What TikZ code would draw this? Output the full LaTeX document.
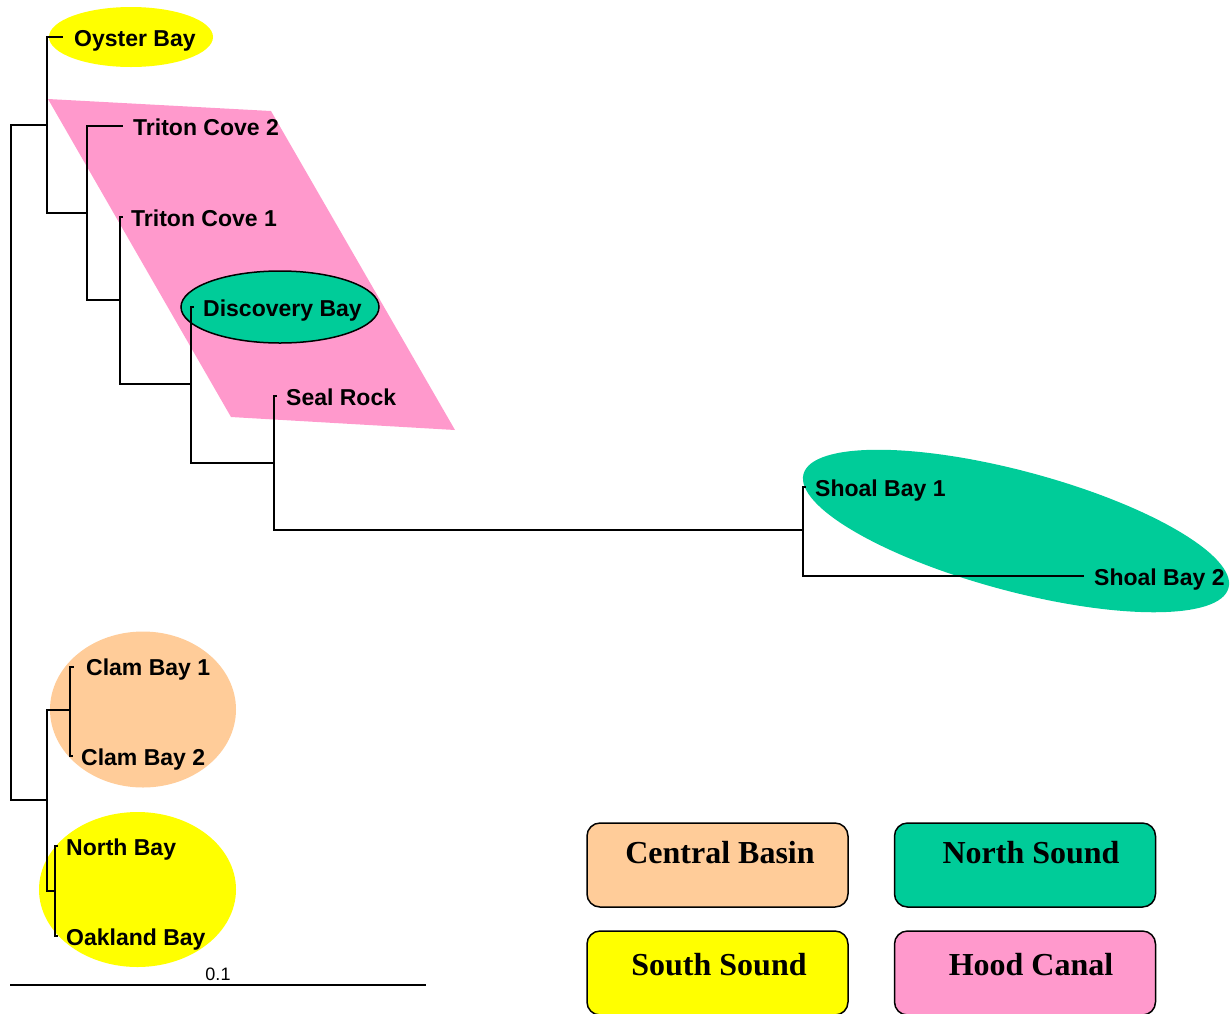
\documentclass[tikz,border=0pt]{standalone}
\usepackage{fontspec}
\setmainfont{Liberation Serif}
\newfontfamily\arialf{Liberation Sans}
\definecolor{cyel}{HTML}{FFFF00}
\definecolor{cpink}{HTML}{FF99CC}
\definecolor{cgreen}{HTML}{00CC99}
\definecolor{cpeach}{HTML}{FFCC99}
\tikzset{
  branch/.style={draw=black,line width=1.6pt,line join=miter,line cap=rect},
  leaf/.style={anchor=base west,inner sep=0pt,font=\arialf\bfseries\fontsize{23}{23}\selectfont},
  legbox/.style={draw=black,line width=1.5pt,rounded corners=13pt,minimum width=261pt,minimum height=84pt,inner sep=0pt},
  legtext/.style={anchor=base,inner sep=0pt,font=\bfseries\fontsize{32}{32}\selectfont}
}
\begin{document}
\begin{tikzpicture}[x=1pt,y=-1pt]
\useasboundingbox (0,0) rectangle (1231,1013);
% group shapes
\fill[cyel] (131,37) ellipse [x radius=82pt,y radius=30pt];
\fill[cpink] (48,99) -- (271,111) -- (455,430) -- (231,417) -- cycle;
\filldraw[fill=cgreen,draw=black,line width=1.5pt] (280,307) ellipse [x radius=99pt,y radius=36pt];
\fill[cgreen,rotate around={-15:(1016,531)}] (1016,531) ellipse [x radius=220pt,y radius=60pt];
\fill[cpeach] (143,709.5) ellipse [x radius=93pt,y radius=78pt];
\fill[cyel] (137.5,889.5) ellipse [x radius=98.5pt,y radius=77.5pt];
% internal nodes
\coordinate (R) at (11,125);
\coordinate (A) at (47,125);
\coordinate (C) at (87,213);
\coordinate (D) at (120,300);
\coordinate (E) at (191,384);
\coordinate (F) at (274,463);
\coordinate (G) at (803,530);
\coordinate (B) at (47,800);
\coordinate (H) at (70,710);
\coordinate (I) at (55,891);
% leaf tips
\coordinate (tOY) at (62,37);
\coordinate (tTC2) at (122,126);
\coordinate (tTC1) at (122,217);
\coordinate (tDB) at (193,307);
\coordinate (tSR) at (276,396);
\coordinate (tSB1) at (805,487);
\coordinate (tSB2) at (1083,576);
\coordinate (tCB1) at (73,667);
\coordinate (tCB2) at (72,756);
\coordinate (tNB) at (57,846);
\coordinate (tOB) at (57,936);
% branches
\draw[branch] (R) |- (A);
\draw[branch] (R) |- (B);
\draw[branch] (A) |- (tOY);
\draw[branch] (A) |- (C);
\draw[branch] (C) |- (tTC2);
\draw[branch] (C) |- (D);
\draw[branch] (D) |- (tTC1);
\draw[branch] (D) |- (E);
\draw[branch] (E) |- (tDB);
\draw[branch] (E) |- (F);
\draw[branch] (F) |- (tSR);
\draw[branch] (F) |- (G);
\draw[branch] (G) |- (tSB1);
\draw[branch] (G) |- (tSB2);
\draw[branch] (B) |- (H);
\draw[branch] (B) |- (I);
\draw[branch] (H) |- (tCB1);
\draw[branch] (H) |- (tCB2);
\draw[branch] (I) |- (tNB);
\draw[branch] (I) |- (tOB);
% leaf labels
\node[leaf] (lOY) at (74,46) {Oyster Bay};
\node[leaf] (lTC2) at (133,135) {Triton Cove 2};
\node[leaf] (lTC1) at (131,226) {Triton Cove 1};
\node[leaf] (lDB) at (203,316) {Discovery Bay};
\node[leaf] (lSR) at (286,405) {Seal Rock};
\node[leaf] (lSB1) at (815,496) {Shoal Bay 1};
\node[leaf] (lSB2) at (1094,585) {Shoal Bay 2};
\node[leaf] (lCB1) at (86,675) {Clam Bay 1};
\node[leaf] (lCB2) at (81,765) {Clam Bay 2};
\node[leaf] (lNB) at (66,855) {North Bay};
\node[leaf] (lOB) at (66,945) {Oakland Bay};
% scale bar
\coordinate (s1) at (10,985);
\coordinate (s2) at (426,985);
\draw[line width=1.6pt] (s1) -- (s2);
\node[anchor=base,inner sep=0pt,font=\arialf\fontsize{18}{18}\selectfont] (sl) at (218,980) {0.1};
% legend
\node[legbox,fill=cpeach] (bCB) at (717.5,865) {};
\node[legbox,fill=cgreen] (bNS) at (1025,865) {};
\node[legbox,fill=cyel] (bSS) at (717.5,973) {};
\node[legbox,fill=cpink] (bHC) at (1025,973) {};
\node[legtext] (xCB) at (720,863) {Central Basin};
\node[legtext] (xNS) at (1031,863) {North Sound};
\node[legtext] (xSS) at (719,975) {South Sound};
\node[legtext] (xHC) at (1031,975) {Hood Canal};
\end{tikzpicture}
\end{document}
